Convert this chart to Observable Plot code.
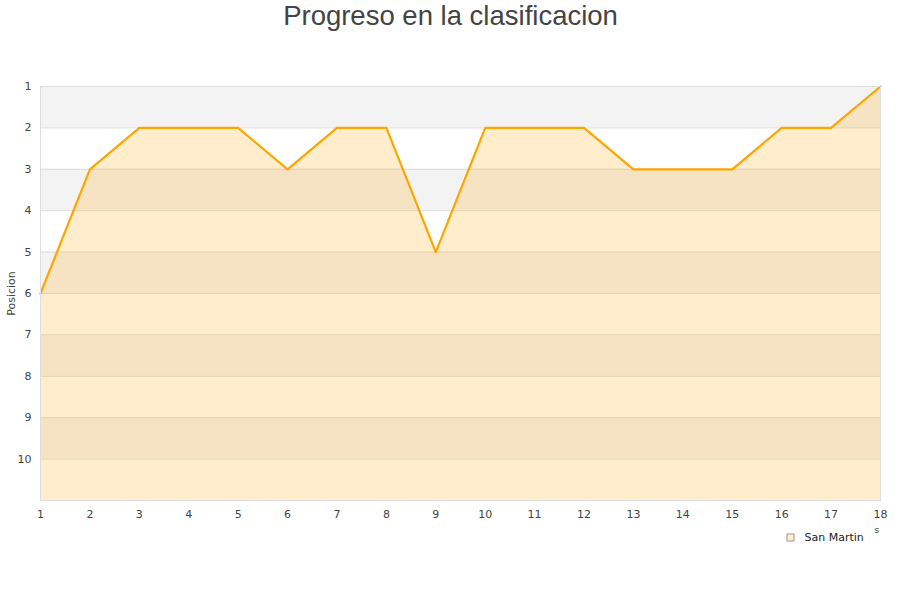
<!DOCTYPE html>
<html>
<head>
<meta charset="utf-8">
<script src="https://cdn.jsdelivr.net/npm/d3@7"></script>
<script src="https://cdn.jsdelivr.net/npm/@observablehq/plot@0.6"></script>
<style>
  html, body { margin: 0; padding: 0; background: #fff; }
  #chart { width: 900px; height: 600px; }
</style>
</head>
<body>
<div id="chart"></div>
<script>
// Jornadas and league position of San Martin
const jornadas = [1, 2, 3, 4, 5, 6, 7, 8, 9, 10, 11, 12, 13, 14, 15, 16, 17, 18];
const posiciones = [6, 3, 2, 2, 2, 3, 2, 2, 5, 2, 2, 2, 3, 3, 3, 2, 2, 1];
const equipo = "San Martin";
const yTicks = [1, 2, 3, 4, 5, 6, 7, 8, 9, 10];
const bandas = [[1, 2], [3, 4], [5, 6], [7, 8], [9, 10]];

const data = jornadas.map((j, i) => ({jornada: j, pos: posiciones[i]}));
const bandData = bandas.map(([a, b]) => ({a, b}));

const font = "DejaVu Sans, sans-serif";

const chart = Plot.plot({
  width: 900,
  height: 600,
  marginTop: 86,
  marginBottom: 100,
  marginLeft: 40,
  marginRight: 20,
  style: {fontFamily: font, fontSize: "11px", color: "#444", background: "#fff"},
  x: {domain: [1, 18], ticks: jornadas, tickSize: 0, tickPadding: 10, label: null, tickFormat: d => String(d)},
  y: {domain: [11, 1], ticks: yTicks, tickSize: 0, tickPadding: 9, label: null, tickFormat: d => String(d)},
  marks: [
    Plot.rect(bandData, {x1: 1, x2: 18, y1: "a", y2: "b", fill: "#f3f3f3"}),
    Plot.ruleY(yTicks, {stroke: "#dddddd", strokeWidth: 1}),
    Plot.areaY(data, {x: "jornada", y1: 11, y2: "pos", fill: "#ffa500", fillOpacity: 0.2}),
    Plot.line(data, {x: "jornada", y: "pos", stroke: "#ffa500", strokeWidth: 2.2}),
    Plot.frame({stroke: "#dddddd"}),
    Plot.axisX({ticks: jornadas, tickSize: 0, tickPadding: 10, label: null, fontSize: 11, fill: "#444"}),
    Plot.axisY({ticks: yTicks, tickSize: 0, tickPadding: 9, label: null, fontSize: 11, fill: "#444"}),
    // title
    Plot.text([0], {text: () => "Progreso en la clasificacion", frameAnchor: "top", dx: -10, dy: -70, fontSize: 27.5, fill: "#444", fontFamily: "Liberation Sans, Arial, sans-serif", textAnchor: "middle", lineAnchor: "middle"}),
    // y axis title
    Plot.text([0], {text: () => "Posicion", frameAnchor: "left", dx: -29, rotate: -90, fontSize: 11, fill: "#444", textAnchor: "middle"}),
    // legend
    Plot.dot([0], {frameAnchor: "bottom-right", dx: -90, dy: 37, symbol: "square", r: 4, fill: "#ffedcc", stroke: "#999", strokeWidth: 1}),
    Plot.text([0], {text: () => equipo, frameAnchor: "bottom-right", dx: -76, dy: 37, textAnchor: "start", lineAnchor: "middle", fontSize: 11, fill: "#222"}),
    Plot.text([0], {text: () => "s", frameAnchor: "bottom-right", dx: -6, dy: 32, textAnchor: "start", fontSize: 9, fill: "#444"})
  ]
});

document.getElementById("chart").appendChild(chart);
</script>
</body>
</html>
